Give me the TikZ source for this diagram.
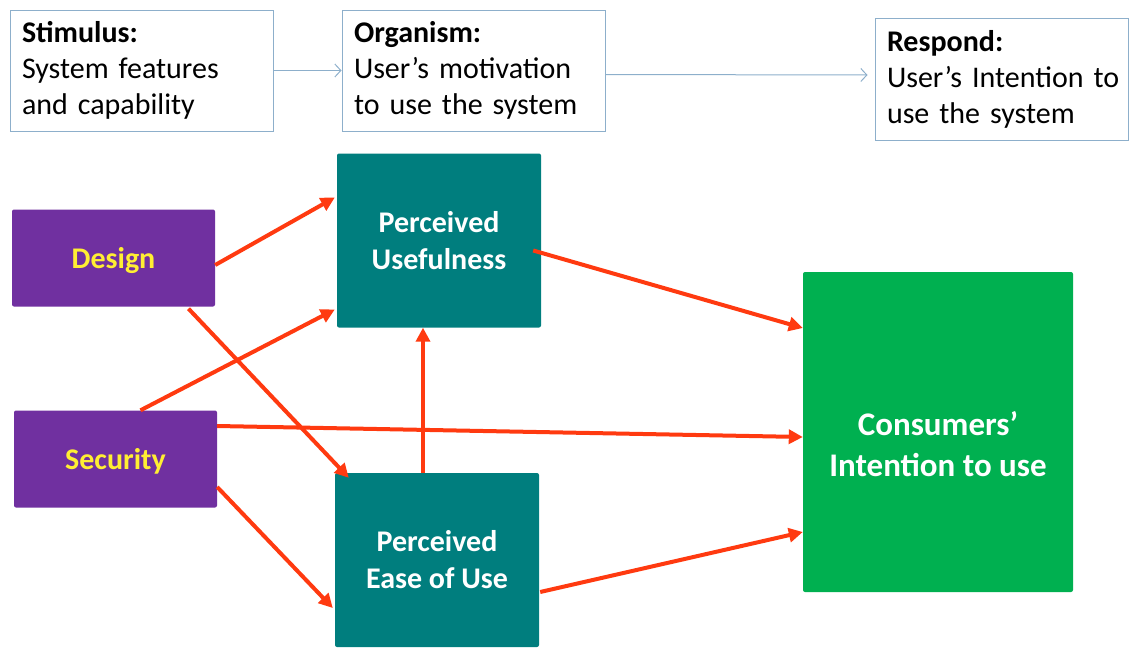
\documentclass[tikz,border=0pt]{standalone}
\usepackage{fontspec}
\setmainfont{Carlito}
\usetikzlibrary{arrows.meta,calc}
\definecolor{purp}{HTML}{7030A0}
\definecolor{tealbox}{HTML}{007E7E}
\definecolor{greenbox}{HTML}{00B050}
\definecolor{redarr}{HTML}{FF3A10}
\definecolor{bluegray}{HTML}{8DAFCB}
\definecolor{yel}{HTML}{FFEE33}
\tikzset{
  smo/.style={draw=bluegray, line width=1pt, fill=white, align=left, inner xsep=12pt,
    minimum height=121pt, font=\fontsize{30}{36}\selectfont},
  factor/.style={fill=purp, rounded corners=2pt, minimum width=203pt, minimum height=97pt,
    text=yel, text depth=0pt, font=\fontsize{30}{37}\selectfont\bfseries},
  perc/.style={fill=tealbox, rounded corners=2pt, minimum width=204pt, minimum height=174pt,
    text=white, align=center, font=\fontsize{30}{37}\selectfont\bfseries},
  intent/.style={fill=greenbox, rounded corners=2pt, minimum width=270pt, minimum height=320pt},
  intenttext/.style={text=white, align=center, yshift=-12pt, font=\fontsize{33}{41}\selectfont\bfseries},
  link/.style={draw=bluegray, line width=1pt, -{Straight Barb[length=6pt,width=13pt]}},
  effect/.style={draw=redarr, line width=4pt, -{Triangle[length=14pt,width=14pt]}}
}
\begin{document}
\begin{tikzpicture}[x=1pt,y=-1pt]
  \useasboundingbox (0,0) rectangle (1130,648);
  % stimulus - organism - respond
  \node[smo, text width=239pt] (stim) at (141.5,70.5) {\textbf{Stimulus:}\\System features\\and capability};
  \node[smo, text width=239pt] (org) at (473.5,70.5) {\textbf{Organism:}\\User’s motivation\\to use the system};
  \node[smo, text width=229pt, minimum height=122pt] (resp) at (1001.5,79) {\textbf{Respond:}\\\mbox{User’s Intention to}\\use the system};
  \draw[link] (stim.east) -- (org.west);
  \draw[link] ($(org.east)+(0,4)$) -- ($(resp.west)+(-7,-4)$);

  \node[factor] (design) at (113.5,258) {Design};
  \node[factor] (secur) at (115.5,459) {Security};
  \node[perc] (pu) at (439,240.5) {Perceived\\Usefulness};
  \node[perc] (peou) at (437,560) {Perceived\\Ease of Use};
  \node[intent, label={[intenttext]center:Consumers’\\Intention to use}] (ci) at (938,432) {};

  \draw[effect] ($(design.east)+(0,7)$) -- ($(pu.west)+(-2,-43)$);
  \draw[effect] ($(design.south)+(75,2)$) -- ($(peou.north west)+(14,5)$);
  \draw[effect] ($(secur.north)+(25,0)$) -- ($(pu.west)+(-2,69)$);
  \draw[effect] ($(secur.east)+(0,-33)$) -- ($(ci.west)+(0,5)$);
  \draw[effect] ($(secur.east)+(0,28)$) -- ($(peou.west)+(-2,48)$);
  \draw[effect] ($(peou.north)+(-14,0)$) -- ($(pu.south)+(-16,0)$);
  \draw[effect] ($(pu.east)+(-8,10)$) -- ($(ci.west)+(0,-104)$);
  \draw[effect] ($(peou.east)+(1,32)$) -- ($(ci.west)+(0,100)$);
\end{tikzpicture}
\end{document}
